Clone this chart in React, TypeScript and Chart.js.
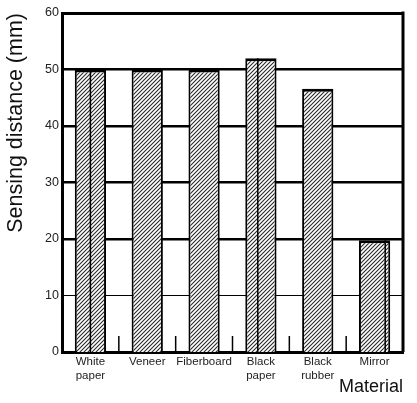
import React, { useEffect, useRef } from "react";
import { Chart, registerables } from "chart.js";

Chart.register(...registerables);

const categories: string[][] = [
  ["White", "paper"],
  ["Veneer"],
  ["Fiberboard"],
  ["Black", "paper"],
  ["Black", "rubber"],
  ["Mirror"],
];
const sensingDistance: number[] = [50, 50, 50, 52, 46.6, 19.8];
const dividerFractions: (number | null)[] = [0.5, null, null, 0.4, null, 0.84];
const yTicks: number[] = [0, 10, 20, 30, 40, 50, 60];

function makeHatch(): CanvasPattern | string {
  const c = document.createElement("canvas");
  c.width = 4;
  c.height = 4;
  const g = c.getContext("2d");
  if (!g) return "#fff";
  g.fillStyle = "#ffffff";
  g.fillRect(0, 0, 4, 4);
  g.strokeStyle = "#2a2a2a";
  g.lineWidth = 1.1;
  g.beginPath();
  g.moveTo(-1, 5);
  g.lineTo(5, -1);
  g.moveTo(-1, 1);
  g.lineTo(1, -1);
  g.moveTo(3, 5);
  g.lineTo(5, 3);
  g.stroke();
  const p = g.createPattern(c, "repeat");
  return p || "#fff";
}

const decorPlugin = {
  id: "decor",
  afterDatasetsDraw(chart: any) {
    const { ctx, chartArea } = chart;
    const meta = chart.getDatasetMeta(0);
    ctx.save();
    ctx.strokeStyle = "#000";
    meta.data.forEach((el: any, i: number) => {
      const f = dividerFractions[i];
      if (f == null) return;
      const x = el.x - el.width / 2 + el.width * f;
      ctx.lineWidth = 1.5;
      ctx.beginPath();
      ctx.moveTo(x, el.y);
      ctx.lineTo(x, el.base);
      ctx.stroke();
    });
    const xs = chart.scales.x;
    const n = categories.length;
    for (let i = 0; i < n - 1; i++) {
      const x = (xs.getPixelForValue(i) + xs.getPixelForValue(i + 1)) / 2;
      ctx.lineWidth = 1.5;
      ctx.beginPath();
      ctx.moveTo(x, chartArea.bottom);
      ctx.lineTo(x, chartArea.bottom - 16);
      ctx.stroke();
    }
    ctx.lineWidth = 3;
    ctx.beginPath();
    ctx.moveTo(chartArea.right, chartArea.top - 1.5);
    ctx.lineTo(chartArea.right, chartArea.bottom);
    ctx.stroke();
    ctx.restore();
  },
};

export default function App() {
  const ref = useRef<HTMLCanvasElement>(null);
  useEffect(() => {
    if (!ref.current) return;
    const hatch = makeHatch();
    const chart = new Chart(ref.current, {
      type: "bar",
      data: {
        labels: categories as any,
        datasets: [
          {
            data: sensingDistance,
            backgroundColor: hatch as any,
            borderColor: "#000",
            borderWidth: { top: 3, left: 2, right: 2, bottom: 0 } as any,
            categoryPercentage: 1,
            barPercentage: 0.55,
          },
        ],
      },
      options: {
        responsive: false,
        animation: false,
        layout: { padding: { top: 13, right: 14, left: 0, bottom: 0 } },
        plugins: { legend: { display: false }, tooltip: { enabled: false } },
        scales: {
          x: {
            grid: { display: false, drawTicks: false },
            border: { display: true, color: "#000", width: 3 },
            ticks: {
              color: "#222",
              padding: 3,
              maxRotation: 0,
              autoSkip: false,
              font: { family: "'Liberation Sans Narrow', 'Arial Narrow', 'Liberation Sans', Arial", size: 11.5, lineHeight: 1.2 },
            },
            title: {
              display: true,
              text: "Material",
              align: "end",
              color: "#111",
              font: { family: "'Liberation Sans', Arial, sans-serif", size: 18 },
              padding: { top: 0, bottom: 5 },
            },
            afterFit(scale: any) {
              scale.height = 51;
            },
          },
          y: {
            min: 0,
            max: 60,
            afterBuildTicks(scale: any) {
              scale.ticks = yTicks.map((v) => ({ value: v }));
            },
            grid: {
              color: "#000",
              drawTicks: false,
              lineWidth: (c: any) => {
                const v = c.tick ? c.tick.value : 0;
                if (v === 0) return 0;
                if (v === 10) return 1;
                if (v === 60) return 3;
                return 2.5;
              },
            },
            border: { display: true, color: "#000", width: 3 },
            ticks: {
              color: "#222",
              padding: 3,
              font: { family: "'Liberation Sans', Arial, sans-serif", size: 12.5 },
            },
            title: {
              display: true,
              text: "Sensing distance (mm)",
              align: "end",
              color: "#111",
              font: { family: "'Liberation Sans', Arial, sans-serif", size: 21.5 },
              padding: { top: 3, bottom: 0 },
            },
            afterFit(scale: any) {
              scale.width = 62;
            },
          },
        },
      },
      plugins: [decorPlugin],
    });
    return () => chart.destroy();
  }, []);
  return (
    <div style={{ position: "absolute", left: 0, top: 0, width: 417, height: 403, background: "#fff" }}>
      <canvas ref={ref} width={417} height={403} style={{ display: "block" }} />
    </div>
  );
}
